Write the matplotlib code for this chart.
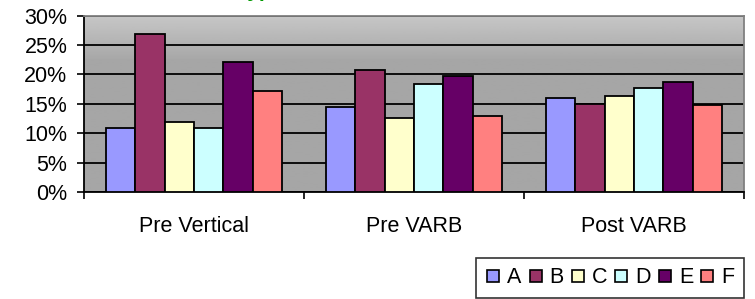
import numpy as np
import matplotlib
matplotlib.use("Agg")
import matplotlib.pyplot as plt
from matplotlib.lines import Line2D

plt.rcParams['font.family'] = ['Liberation Sans', 'DejaVu Sans']

# data
categories = ['Pre Vertical', 'Pre VARB', 'Post VARB']
series = ['A', 'B', 'C', 'D', 'E', 'F']
values = {
    'A': [10.8, 14.5, 15.9],
    'B': [26.9, 20.7, 14.9],
    'C': [11.9, 12.5, 16.3],
    'D': [10.8, 18.3, 17.6],
    'E': [22.1, 19.7, 18.7],
    'F': [17.1, 12.9, 14.85],
}
colors = ['#9999FF', '#993366', '#FFFFCC', '#CCFFFF', '#660066', '#FF8080']
yticks = [0, 5, 10, 15, 20, 25, 30]

fig = plt.figure(figsize=(7.55, 2.99), dpi=100)
ax = fig.add_axes([84 / 755, 1 - 192 / 299, 660 / 755, 176.5 / 299])

# plot-area gradient (grey, lighter towards the bottom)
grad = np.concatenate([np.linspace(0.78, 0.66, 40), np.full(120, 0.65)])
ax.imshow(grad[::-1].reshape(-1, 1), cmap='gray', vmin=0, vmax=1, aspect='auto',
          extent=[0, 1, 0, 1], transform=ax.transAxes, zorder=0, origin='lower')

n = len(series)
bw = 1 / (n + 1.5)
x = np.arange(len(categories))
for i, s in enumerate(series):
    ax.bar(x + (i - (n - 1) / 2) * bw, values[s], width=bw, color=colors[i],
           edgecolor='black', linewidth=1.3, zorder=3)

ax.set_xlim(-0.5, len(categories) - 0.5)
ax.set_ylim(0, 30)
ax.set_yticks(yticks)
ax.set_yticklabels([f'{v}%' for v in yticks])
ax.yaxis.grid(True, color='black', linewidth=1.3, zorder=1)
ax.set_axisbelow(True)

ax.set_xticks(np.arange(len(categories) + 1) - 0.5)
ax.set_xticklabels([])
ax.set_xticks(x, minor=True)
ax.set_xticklabels(categories, minor=True)
ax.tick_params(axis='x', which='major', direction='out', length=5, width=1.2)
ax.tick_params(axis='x', which='minor', length=0, pad=17, labelsize=15.5)
ax.tick_params(axis='y', direction='out', length=5, width=1.2, pad=7, labelsize=15.5)

for side in ['left', 'bottom']:
    ax.spines[side].set_color('black')
    ax.spines[side].set_linewidth(1.3)
for side in ['top', 'right']:
    ax.spines[side].set_color('#808080')
    ax.spines[side].set_linewidth(1.3)

handles = [Line2D([], [], marker='s', linestyle='none', markersize=9,
                  markerfacecolor=c, markeredgecolor='black', markeredgewidth=1.2)
           for c in colors]
leg = fig.legend(handles, series, loc='lower right', bbox_to_anchor=(744 / 755, 1 / 299),
                 ncol=6, frameon=True, fontsize=15.5, handlelength=0.7,
                 handletextpad=0.3, columnspacing=0.3, borderpad=0.45,
                 fancybox=False, borderaxespad=0)
leg.get_frame().set_edgecolor('black')
leg.get_frame().set_linewidth(1.2)

# title sits mostly above the top edge, as in the reference
fig.text(0.51, 1 + 3 / 299, 'Typical Cost Distribution Data', color='#009900',
         fontsize=15, fontweight='bold', ha='center', va='baseline')

fig.savefig('out.png', dpi=100)
